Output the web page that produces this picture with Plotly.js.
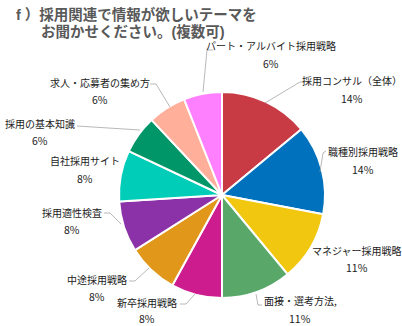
<!DOCTYPE html>
<html>
<head>
<meta charset="utf-8">
<script src="https://cdn.plot.ly/plotly-3.0.1.min.js"></script>
<style>html,body{margin:0;padding:0;background:#fff;}#chart{width:402px;height:326px;}</style>
</head>
<body>
<div id="chart"></div>
<script>
// ---- data ----
const categories = ['採用コンサル（全体）','職種別採用戦略','マネジャー採用戦略','面接・選考方法,','新卒採用戦略','中途採用戦略','採用適性検査','自社採用サイト','採用の基本知識','求人・応募者の集め方','パート・アルバイト採用戦略'];
const values = [14, 14, 11, 11, 8, 8, 8, 8, 6, 6, 6];
const pctLabels = ['14%','14%','11%','11%','8%','8%','8%','8%','6%','6%','6%'];
const colors = ['#C83B44','#0071BC','#F2C70F','#59A869','#CC1C8E','#E0971A','#8B32A8','#00CDB8','#009668','#FFAF9A','#FF80FF'];
const titleLines = ['f ）採用関連で情報が欲しいテーマを', 'お聞かせください。(複数可)'];

// ---- label layout (pixel positions: x center, name y, pct y) ----
const W = 402, H = 326;
const labelPos = [[352,80,98],[363,151,169],[357,250,267],[300,300,318],[147,302,318],[97,279,296],[72,212,229],[85,160,178],[40,123,141],[100,83,99],[271,46,64]];
const leaders = [
  [[305,82],[300,82],[265,103]],
  [[326,151],[323,153],[320,172]],
  null,
  [[262,305],[258,305],[256,294]],
  [[180,304],[186,304],[195,294]],
  [[129,281],[135,281],[149,268]],
  [[104,213],[110,213],[121,224]],
  null,
  [[77,126],[140,130]],
  [[150,84],[156,84],[170,107]],
  [[213,50],[207,50],[203,92]]
];
const titlePos = [[14,15],[39,32]];
const px = x => x / W, py = y => 1 - y / H;

const labelFont = {family: '"Noto Sans CJK JP", "Noto Sans", sans-serif', size: 10, color: '#1a1a1a'};
const annotations = [];
categories.forEach((c, i) => {
  const p = labelPos[i];
  annotations.push({xref:'paper', yref:'paper', x:px(p[0]), y:py(p[1]), text:c, showarrow:false, xanchor:'center', yanchor:'middle', font:labelFont});
  annotations.push({xref:'paper', yref:'paper', x:px(p[0]), y:py(p[2]), text:pctLabels[i], showarrow:false, xanchor:'center', yanchor:'middle', font:Object.assign({}, labelFont, {size:10.5})});
});
const titleFont = {family: '"Liberation Sans", "Noto Sans CJK JP", sans-serif', size: 14.5, color: '#595959'};
titleLines.forEach((t, i) => {
  annotations.push({xref:'paper', yref:'paper', x:px(titlePos[i][0]), y:py(titlePos[i][1]), text:'<b>' + t + '</b>', showarrow:false, xanchor:'left', yanchor:'middle', align:'left', font:titleFont});
});

const shapes = [];
leaders.forEach(l => {
  if (!l) return;
  const d = l.map((pt, k) => (k ? 'L' : 'M') + px(pt[0]) + ',' + py(pt[1])).join(' ');
  shapes.push({type:'path', xref:'paper', yref:'paper', path:d, line:{color:'#A6A6A6', width:0.8}});
});

const cx = 222, cy = 195, r = 103;
const trace = {
  type: 'pie',
  labels: categories,
  values: values,
  sort: false,
  direction: 'clockwise',
  rotation: 0,
  textinfo: 'none',
  hoverinfo: 'none',
  marker: {colors: colors, line: {color: '#ffffff', width: 2}},
  domain: {x: [px(cx - r), px(cx + r)], y: [py(cy + r), py(cy - r)]}
};

const layout = {
  width: W, height: H,
  margin: {l:0, r:0, t:0, b:0},
  showlegend: false,
  paper_bgcolor: '#ffffff',
  annotations: annotations,
  shapes: shapes
};
Plotly.newPlot('chart', [trace], layout, {staticPlot: true});
</script>
</body>
</html>
